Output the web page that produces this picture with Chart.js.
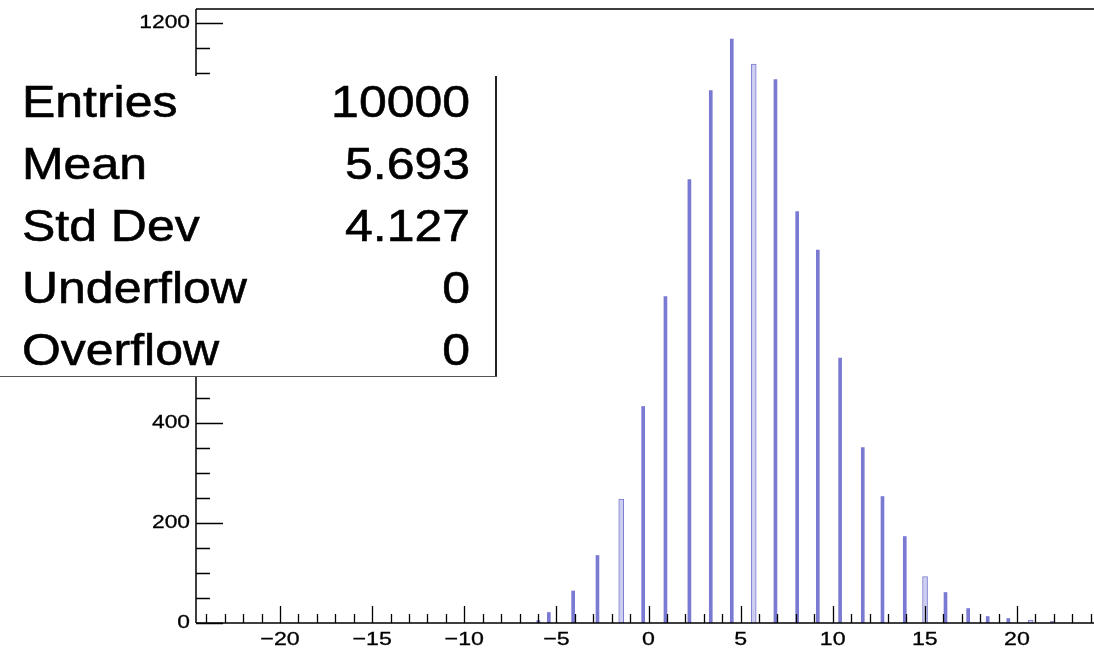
<!DOCTYPE html>
<html>
<head>
<meta charset="utf-8">
<script src="https://cdn.jsdelivr.net/npm/chart.js@4.4.1/dist/chart.umd.min.js"></script>
<style>
  html, body { margin: 0; padding: 0; background: #ffffff; overflow: hidden; }
  #wrap { position: relative; width: 1094px; height: 652px; }
</style>
</head>
<body>
<div id="wrap"><canvas id="c" width="1094" height="652"></canvas></div>
<script>
// Centres of the filled bins and their contents
const binCenters = [-5.98, -5.41, -4.09, -2.77, -1.48, -0.29, 0.92, 2.22, 3.38, 4.52, 5.71, 6.89, 8.07,
                    9.19, 10.40, 11.63, 12.70, 13.91, 15.01, 16.12, 17.35, 18.41, 19.53, 20.74, 21.90];
const binCounts  = [5, 21, 64, 135, 248, 433, 653, 887, 1065, 1168, 1118, 1087, 823,
                    746, 530, 351, 253, 173, 93, 61, 29, 13, 9, 6, 3];
// Filled bins that span two cells
const wideBins = [-1.48, 5.71, 15.01, 20.74];

// Axis ranges and tick spacing
const xRange = [-24.56, 24.18];
const yRange = [0, 1228];
const xMajorStep = 5, xMinorStep = 1;
const yMajorStep = 200, yMinorStep = 50;

// Statistics box
const statLabels = ['Entries', 'Mean', 'Std Dev', 'Underflow', 'Overflow'];
const statValues = ['10000', '5.693', '4.127', '0', '0'];

const FONT = '"Liberation Sans", Arial, Helvetica, sans-serif';

function pointsFor(wide) {
  const out = [];
  binCenters.forEach((c, i) => {
    if (wideBins.includes(c) === wide) out.push({ x: c, y: binCounts[i] });
  });
  return out;
}

function stretchedText(ctx, text, x, y, size, align, sx, bold) {
  ctx.save();
  ctx.translate(x, y);
  ctx.scale(sx, 1);
  ctx.font = size + 'px ' + FONT;
  ctx.textAlign = align;
  ctx.fillText(text, 0, 0);
  if (bold) {
    ctx.lineWidth = bold;
    ctx.strokeStyle = ctx.fillStyle;
    ctx.strokeText(text, 0, 0);
  }
  ctx.restore();
}

const frameAndTicks = {
  id: 'frameAndTicks',
  afterDatasetsDraw(chart) {
    const { ctx, chartArea: a, scales: { x, y } } = chart;
    ctx.save();
    ctx.strokeStyle = '#000';
    ctx.lineWidth = 1.5;
    // frame
    ctx.beginPath();
    ctx.moveTo(a.left, a.top); ctx.lineTo(a.right + 2, a.top);
    ctx.moveTo(a.left, a.top); ctx.lineTo(a.left, a.bottom);
    ctx.moveTo(a.left, a.bottom); ctx.lineTo(a.right + 2, a.bottom);
    ctx.stroke();
    // x ticks, pointing into the frame
    ctx.lineWidth = 1.3;
    ctx.beginPath();
    for (let v = Math.ceil(x.min); v <= x.max; v += xMinorStep) {
      const px = Math.round(x.getPixelForValue(v)) + 0.5;
      const len = (v % xMajorStep === 0) ? 17 : 9;
      ctx.moveTo(px, a.bottom); ctx.lineTo(px, a.bottom - len);
    }
    // y ticks
    for (let v = 0; v <= y.max; v += yMinorStep) {
      const py = Math.round(y.getPixelForValue(v)) + 0.5;
      const len = (v % yMajorStep === 0) ? 27 : 14;
      ctx.moveTo(a.left, py); ctx.lineTo(a.left + len, py);
    }
    ctx.stroke();
    // tick labels
    ctx.fillStyle = '#000';
    ctx.textBaseline = 'middle';
    for (let v = Math.ceil(x.min / xMajorStep) * xMajorStep; v <= x.max; v += xMajorStep) {
      const txt = String(v).replace('-', '\u2212');
      stretchedText(ctx, txt, x.getPixelForValue(v), a.bottom + 17, 19, 'center', 1.22, 0.3);
    }
    for (let v = 0; v <= y.max; v += yMajorStep) {
      stretchedText(ctx, String(v), a.left - 6, y.getPixelForValue(v), 19, 'right', 1.2, 0.3);
    }
    ctx.restore();
  },
  afterDraw(chart) {
    const { ctx } = chart;
    const box = { left: 0, top: 76, right: 497, bottom: 377 };
    ctx.save();
    ctx.fillStyle = '#fff';
    ctx.fillRect(box.left, box.top, box.right - box.left, box.bottom - box.top);
    ctx.strokeStyle = '#222';
    ctx.lineWidth = 2;
    ctx.beginPath();
    ctx.moveTo(box.right - 1, box.top); ctx.lineTo(box.right - 1, box.bottom);
    ctx.stroke();
    ctx.strokeStyle = '#555';
    ctx.lineWidth = 1;
    ctx.beginPath();
    ctx.moveTo(box.left, box.bottom - 0.5); ctx.lineTo(box.right, box.bottom - 0.5);
    ctx.stroke();
    ctx.fillStyle = '#000';
    ctx.textBaseline = 'alphabetic';
    statLabels.forEach((lab, i) => {
      const base = 117 + 62 * i;
      stretchedText(ctx, lab, 22, base, 45, 'left', 1.11, 0.6);
      stretchedText(ctx, statValues[i], 470, base, 45, 'right', 1.11, 0.6);
    });
    ctx.restore();
  }
};

new Chart(document.getElementById('c'), {
  type: 'bar',
  data: {
    datasets: [
      {
        data: pointsFor(false),
        backgroundColor: 'rgb(122,122,210)',
        borderWidth: 0,
        barThickness: 3,
        grouped: false
      },
      {
        data: pointsFor(true),
        backgroundColor: 'rgb(206,206,240)',
        borderColor: 'rgb(122,122,210)',
        borderWidth: 1,
        borderSkipped: 'bottom',
        barThickness: 5,
        grouped: false
      }
    ]
  },
  options: {
    responsive: false,
    animation: false,
    devicePixelRatio: 1,
    layout: { padding: { top: 9, left: 0, right: 0, bottom: 0 } },
    plugins: { legend: { display: false }, tooltip: { enabled: false } },
    scales: {
      x: {
        type: 'linear', min: xRange[0], max: xRange[1], offset: false,
        ticks: { display: false }, grid: { display: false }, border: { display: false },
        afterFit(s) { s.height = 29; }
      },
      y: {
        min: yRange[0], max: yRange[1],
        ticks: { display: false }, grid: { display: false }, border: { display: false },
        afterFit(s) { s.width = 196; }
      }
    }
  },
  plugins: [frameAndTicks]
});
</script>
</body>
</html>
